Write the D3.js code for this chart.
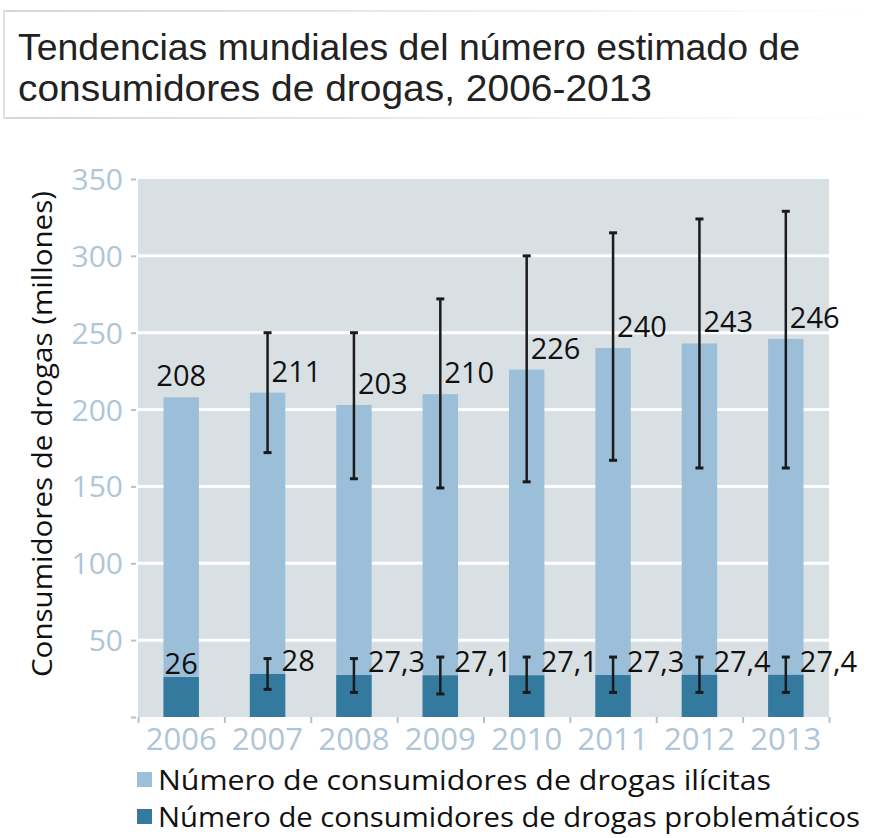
<!DOCTYPE html>
<html>
<head>
<meta charset="utf-8">
<script src="https://cdn.jsdelivr.net/npm/d3@7"></script>
<style>
  body { margin: 0; background: #fff; }
  text { font-family: "Open Sans", "Noto Sans", sans-serif; }
</style>
</head>
<body>
<svg id="chart" width="875" height="838"></svg>
<script>
"use strict";

var years = ["2006", "2007", "2008", "2009", "2010", "2011", "2012", "2013"];
var ilicitas = [208, 211, 203, 210, 226, 240, 243, 246];
var ilicitasLow = [null, 172, 155, 149, 153, 167, 162, 162];
var ilicitasHigh = [null, 250, 250, 272, 300, 315, 324, 329];
var problematicos = [26, 28, 27.3, 27.1, 27.1, 27.3, 27.4, 27.4];
var problematicosLow = [null, 18, 16, 15, 16, 16, 16, 16];
var problematicosHigh = [null, 38, 38, 39, 39, 39, 39, 39];
var yTicks = [0, 50, 100, 150, 200, 250, 300, 350];
var titleLines = ["Tendencias mundiales del número estimado de", "consumidores de drogas, 2006-2013"];
var seriesNames = ["Número de consumidores de drogas ilícitas", "Número de consumidores de drogas problemáticos"];

var lightBlue = "#9bbfd8";
var darkBlue = "#347a9f";
var axisColor = "#aec6d8";

var svg = d3.select("#chart");

var plotLeft = 138, plotRight = 829, plotTop = 179, plotBottom = 717;

var x = d3.scaleBand().domain(years).range([plotLeft, plotRight]).padding(0);
var xEdge = d3.scaleLinear().domain([0, years.length]).range([plotLeft, plotRight]);
var y = d3.scaleLinear().domain([0, 350]).range([plotBottom, plotTop]);
var barW = x.bandwidth() * 0.41;

function fmt(v) {
  return String(v).replace(".", ",");
}

// title box
var grad = svg.append("defs").append("linearGradient").attr("id", "fade");
grad.append("stop").attr("offset", "0%").attr("stop-color", "#d6d6d6");
grad.append("stop").attr("offset", "100%").attr("stop-color", "#ffffff");
svg.append("rect").attr("x", 3).attr("y", 10).attr("width", 872).attr("height", 2).attr("fill", "url(#fade)");
svg.append("rect").attr("x", 3).attr("y", 117).attr("width", 872).attr("height", 2).attr("fill", "url(#fade)");
svg.append("rect").attr("x", 3).attr("y", 10).attr("width", 2).attr("height", 109).attr("fill", "#e0e0e0");

// title lines (compact font so the two lines don't collide)
var titleWidths = [782, 634];
titleLines.forEach(function (line, i) {
  svg.append("text").attr("x", 18).attr("y", 60 + i * 41)
    .style("font-family", "'Liberation Sans', Arial, sans-serif")
    .attr("font-size", 36).attr("fill", "#222")
    .attr("textLength", titleWidths[i]).attr("lengthAdjust", "spacingAndGlyphs")
    .text(line);
});

// plot background
svg.append("rect")
  .attr("x", plotLeft).attr("y", plotTop)
  .attr("width", plotRight - plotLeft).attr("height", plotBottom - plotTop)
  .attr("fill", "#d9e0e4");

// grid lines
svg.append("g").selectAll("line")
  .data(yTicks.filter(function (d) { return d > 0 && d < 350; }))
  .join("line")
  .attr("x1", plotLeft).attr("x2", plotRight)
  .attr("y1", function (d) { return y(d); })
  .attr("y2", function (d) { return y(d); })
  .attr("stroke", "#ffffff").attr("stroke-width", 3);

// y axis
var yAxis = svg.append("g")
  .attr("transform", "translate(" + (plotLeft - 2) + ",0)")
  .call(d3.axisLeft(y).tickValues(yTicks).tickSize(5).tickPadding(8)
    .tickFormat(function (d) { return d === 0 ? "" : d; }));
yAxis.select(".domain").remove();
yAxis.selectAll(".tick line").attr("stroke", "#b5c3cc").attr("stroke-width", 2);
yAxis.selectAll(".tick text")
  .attr("fill", axisColor).attr("font-size", 30)
  .attr("dy", "0.35em");

// x axis ticks at category edges
var xTickAxis = svg.append("g")
  .attr("transform", "translate(0," + plotBottom + ")")
  .call(d3.axisBottom(xEdge).ticks(years.length).tickSize(6).tickFormat(""));
xTickAxis.select(".domain").remove();
xTickAxis.selectAll(".tick line").attr("stroke", "#b5c3cc").attr("stroke-width", 2);

var xAxis = svg.append("g")
  .attr("transform", "translate(0," + plotBottom + ")")
  .call(d3.axisBottom(x).tickSize(0).tickPadding(11));
xAxis.select(".domain").remove();
xAxis.selectAll(".tick text")
  .attr("fill", axisColor).attr("font-size", 31);

// bars
svg.append("g").selectAll("rect")
  .data(ilicitas)
  .join("rect")
  .attr("x", function (d, i) { return x(years[i]) + x.bandwidth() / 2 - barW / 2; })
  .attr("y", function (d) { return y(d); })
  .attr("width", barW)
  .attr("height", function (d) { return plotBottom - y(d); })
  .attr("fill", lightBlue);

svg.append("g").selectAll("rect")
  .data(problematicos)
  .join("rect")
  .attr("x", function (d, i) { return x(years[i]) + x.bandwidth() / 2 - barW / 2; })
  .attr("y", function (d) { return y(d); })
  .attr("width", barW)
  .attr("height", function (d) { return plotBottom - y(d); })
  .attr("fill", darkBlue);

// error bars
function errorBars(lows, highs, capW) {
  var g = svg.append("g").attr("stroke", "#1b1b1b");
  years.forEach(function (yr, i) {
    if (lows[i] === null) return;
    var cx = x(yr) + x.bandwidth() / 2;
    g.append("line").attr("x1", cx).attr("x2", cx)
      .attr("y1", y(lows[i])).attr("y2", y(highs[i]))
      .attr("stroke-width", 2.5);
    [lows[i], highs[i]].forEach(function (v) {
      g.append("line").attr("x1", cx - capW / 2).attr("x2", cx + capW / 2)
        .attr("y1", y(v)).attr("y2", y(v))
        .attr("stroke-width", 3);
    });
  });
}
errorBars(ilicitasLow, ilicitasHigh, 8);
errorBars(problematicosLow, problematicosHigh, 8);

// value labels
function valueLabels(values, highs, dyOff, dxOff) {
  svg.append("g").selectAll("text")
    .data(values)
    .join("text")
    .attr("x", function (d, i) {
      var cx = x(years[i]) + x.bandwidth() / 2;
      return highs[i] === null ? cx : cx + dxOff;
    })
    .attr("y", function (d) { return y(d) - dyOff; })
    .attr("text-anchor", function (d, i) { return highs[i] === null ? "middle" : "start"; })
    .attr("font-size", 29)
    .attr("fill", "#111")
    .text(function (d) { return fmt(d); });
}
valueLabels(ilicitas, ilicitasHigh, 11, 4);
valueLabels(problematicos, problematicosHigh, 3, 14);

// y axis title
svg.append("text")
  .attr("transform", "translate(52," + ((plotTop + plotBottom) / 2 - 14) + ") rotate(-90)")
  .attr("text-anchor", "middle")
  .attr("font-size", 28).attr("fill", "#111")
  .attr("textLength", 486).attr("lengthAdjust", "spacingAndGlyphs")
  .text("Consumidores de drogas (millones)");

// legend
var legend = svg.append("g");
var legendColors = [lightBlue, darkBlue];
var legendWidths = [613, 702];
seriesNames.forEach(function (name, i) {
  var ly = 790 + i * 37;
  legend.append("rect").attr("x", 137).attr("y", ly - 18).attr("width", 15).attr("height", 15)
    .attr("fill", legendColors[i]);
  legend.append("text").attr("x", 158).attr("y", ly)
    .attr("font-size", 28).attr("fill", "#111")
    .attr("textLength", legendWidths[i]).attr("lengthAdjust", "spacingAndGlyphs")
    .text(name);
});
</script>
</body>
</html>
